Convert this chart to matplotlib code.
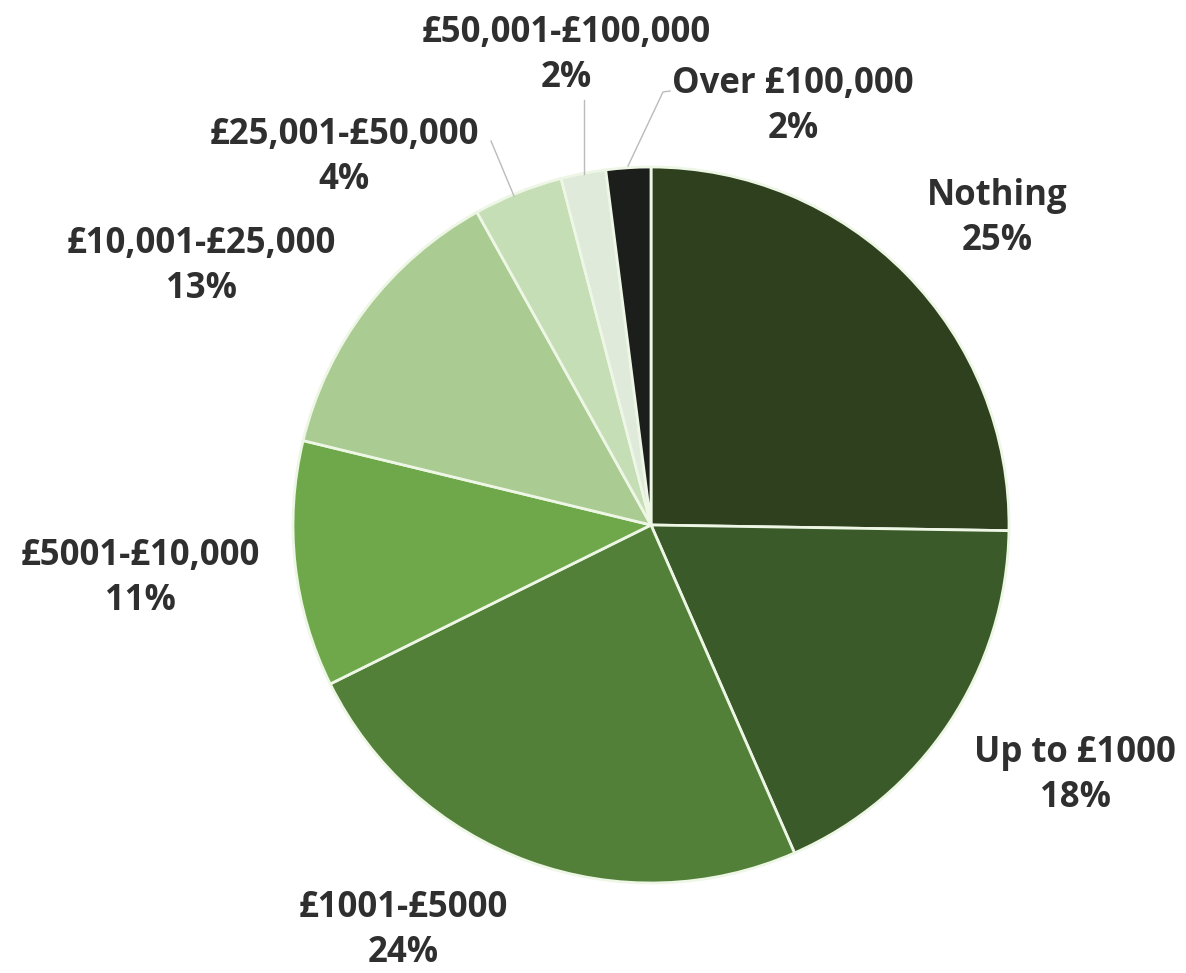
import matplotlib.pyplot as plt

# wealth bands and their shares (%)
bands = ["Nothing", "Up to £1000", "£1001-£5000", "£5001-£10,000",
         "£10,001-£25,000", "£25,001-£50,000", "£50,001-£100,000", "Over £100,000"]
shares = [25, 18, 24, 11, 13, 4, 2, 2]
colours = ["#2e401e", "#3b5a29", "#538039", "#6ea84a",
           "#aacb92", "#c5deb6", "#dfeada", "#1c1e1c"]

# label anchor: x centre, baseline of the % line (pixels from top)
label_pos = [(997, 250), (1075, 807), (403, 962), (140, 610),
             (201, 298), (344, 189), (566, 87), (793, 138)]
# leader lines (label end -> pie edge), only for the small slices
leaders = {5: [(491, 141), (514, 196)],
           6: [(584, 100), (584, 174)],
           7: [(670, 91), (663, 92), (628, 166)]}

W, H = 1186, 973
fig = plt.figure(figsize=(W / 100, H / 100), dpi=100)
ax = fig.add_axes([0, 0, 1, 1])

ax.pie(shares, colors=colours, startangle=90, counterclock=False,
       center=(651, H - 525), radius=358,
       wedgeprops=dict(edgecolor="#eef7e6", linewidth=2))

# pie() resets limits, so fix them afterwards
ax.set_xlim(0, W)
ax.set_ylim(0, H)
ax.set_aspect("equal")
ax.axis("off")

for i, (name, val) in enumerate(zip(bands, shares)):
    x, y = label_pos[i]
    ax.text(x, H - y, f"{name}\n{val}%", ha="center", va="baseline",
            fontsize=25, fontweight="bold", color="#2f2f2f",
            family="Open Sans", linespacing=1.32)

for i, pts in leaders.items():
    ax.plot([p[0] for p in pts], [H - p[1] for p in pts],
            color="#bbbbbb", linewidth=1)

fig.savefig("out.png", dpi=100, facecolor="white")
